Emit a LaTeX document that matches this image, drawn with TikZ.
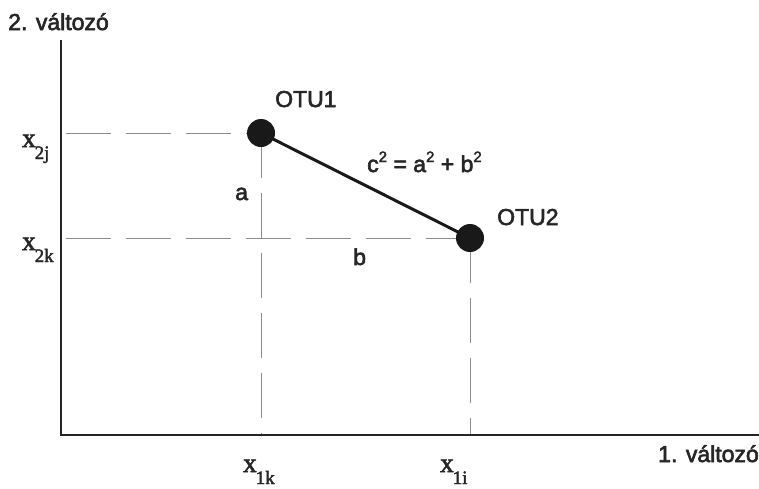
\documentclass[tikz,border=0pt]{standalone}
\usepackage{fontspec}
\setmainfont{Liberation Sans}
\newfontfamily\medsans[FakeBold=2.6]{Liberation Sans}
\newfontfamily\serifx[FakeBold=2.2]{Liberation Serif}
\newcommand{\supr}[1]{\raisebox{10pt}{\fontsize{15}{15}\selectfont #1}}
\newcommand{\varlab}[2]{{\serifx\fontsize{27}{27}\selectfont x\kern-1pt\raisebox{-12pt}{\fontsize{19}{19}\selectfont #1#2}}}
\begin{document}
\begin{tikzpicture}[x=1pt,y=-1pt,
  axis/.style={line width=1.4pt,black!85},
  guide/.style={line width=0.6pt,black!45,dash pattern=on 45pt off 15pt},
  otu/.style={circle,fill=black!90,inner sep=0pt,minimum size=28pt},
  lab/.style={inner sep=0pt,anchor=base west,font=\medsans\fontsize{23}{23}\selectfont,text=black!85},
  xlab/.style={inner sep=0pt,anchor=base west,text=black!85}]
\useasboundingbox (0,0) rectangle (759,488);
% coordinates
\coordinate (top) at (61,40);
\coordinate (orig) at (61,435);
\coordinate (xend) at (759,435);
\coordinate (p1) at (261,133);
\coordinate (p2) at (470,238);
\coordinate (yj) at (61,133);
\coordinate (yk) at (61,238);
\coordinate (xk) at (261,435);
\coordinate (xi) at (470,435);
% guides
\draw[guide,dash phase=-5pt] (yj) -- (p1);
\draw[guide,dash phase=-5pt] (yk) -- (p2);
\draw[guide] (p1) -- (xk);
\draw[guide] (p2) -- (xi);
% axes
\draw[axis] (top) -- (orig) -- (xend);
% points
\node[otu] (otu1) at (p1) {};
\node[otu] (otu2) at (p2) {};
\draw[line width=3pt,black!90] (otu1.center) -- (otu2.center);
% labels
\node[lab] (yname) at (8,30) {2. változó};
\node[lab] (xname) at (658,462) {1. változó};
\node[lab] (l1) at (275,107) {OTU1};
\node[lab] (l2) at (497,225) {OTU2};
\node[lab] (eq) at (367,172) {c\supr{2} = a\supr{2} + b\supr{2}};
\node[lab] (la) at (235,200) {a};
\node[lab] (lb) at (353,265) {b};
\node[xlab] (x2j) at (22,147) {\varlab{2}{j}};
\node[xlab] (x2k) at (22,250) {\varlab{2}{k}};
\node[xlab] (x1k) at (243,472) {\varlab{1}{k}};
\node[xlab] (x1i) at (440,472) {\varlab{1}{i}};
\end{tikzpicture}
\end{document}
